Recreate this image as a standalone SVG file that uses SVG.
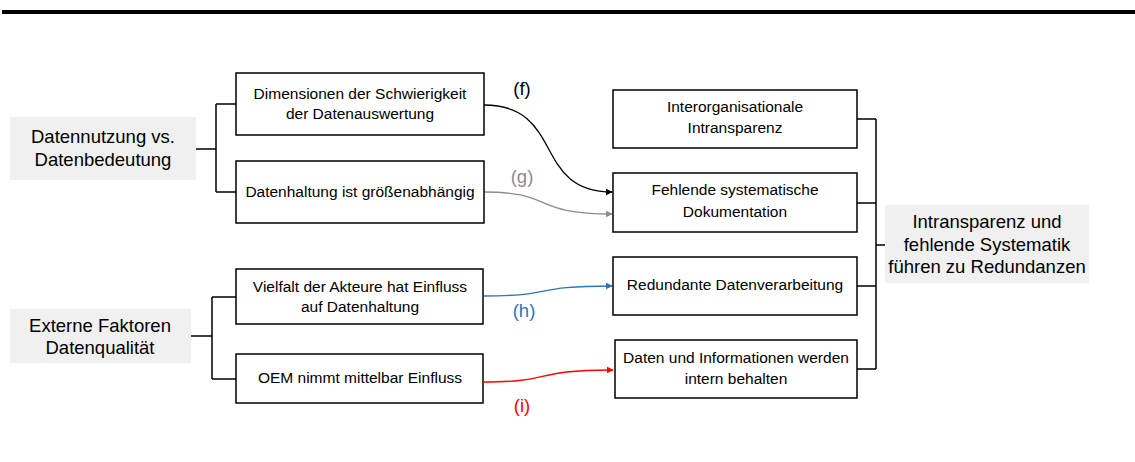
<svg xmlns="http://www.w3.org/2000/svg" width="1135" height="462" viewBox="0 0 1135 462">
  <style>
    .box { fill: #ffffff; stroke: #000000; stroke-width: 1.5; }
    .topic { fill: #f0f0f0; stroke: none; }
    .t { font-family: "Liberation Sans", Arial, sans-serif; font-size: 15.5px; fill: #000000; text-anchor: middle; }
    .big { font-family: "Liberation Sans", Arial, sans-serif; font-size: 18.5px; fill: #000000; text-anchor: middle; }
    .lbl { font-family: "Liberation Sans", Arial, sans-serif; font-size: 18.5px; text-anchor: middle; }
    .tree { fill: none; stroke: #000000; stroke-width: 1.5; }
    .arr { fill: none; stroke-width: 1.3; }
  </style>
  <defs>
    <marker id="ah-black" viewBox="0 0 10 10" refX="9" refY="5" markerWidth="7" markerHeight="7" orient="auto" markerUnits="userSpaceOnUse">
      <path d="M0,0 L10,5 L0,10 Z" fill="#000000"/>
    </marker>
    <marker id="ah-gray" viewBox="0 0 10 10" refX="9" refY="5" markerWidth="7" markerHeight="7" orient="auto" markerUnits="userSpaceOnUse">
      <path d="M0,0 L10,5 L0,10 Z" fill="#8c8c8c"/>
    </marker>
    <marker id="ah-blue" viewBox="0 0 10 10" refX="9" refY="5" markerWidth="7" markerHeight="7" orient="auto" markerUnits="userSpaceOnUse">
      <path d="M0,0 L10,5 L0,10 Z" fill="#2e75b6"/>
    </marker>
    <marker id="ah-red" viewBox="0 0 10 10" refX="9" refY="5" markerWidth="7" markerHeight="7" orient="auto" markerUnits="userSpaceOnUse">
      <path d="M0,0 L10,5 L0,10 Z" fill="#ff0000"/>
    </marker>
  </defs>

  <!-- header rule -->
  <rect x="2" y="10" width="1133" height="4" fill="#000000"/>

  <!-- connectors -->
  <g id="connectors">
    <!-- left tree: Datennutzung -->
    <path class="tree" d="M196,149 H216 M216,104 V192 M216,104 H236 M216,192 H236"/>
    <!-- left tree: Externe Faktoren -->
    <path class="tree" d="M191,336 H212 M212,297 V379 M212,297 H236 M212,379 H236"/>
    <!-- right tree -->
    <path class="tree" d="M857,119 H876 M857,203 H876 M857,286 H876 M857,369 H876 M876,119 V369 M876,245 H885"/>
    <!-- cross links -->
    <path class="arr" stroke="#000000" marker-end="url(#ah-black)" d="M484,105 C565,105 532,192 612,192"/>
    <path class="arr" stroke="#8c8c8c" marker-end="url(#ah-gray)" d="M484,192 C555,192 530,214 612,214"/>
    <path class="arr" stroke="#2e75b6" marker-end="url(#ah-blue)" d="M484,296 C555,296 530,286 612,286"/>
    <path class="arr" stroke="#ff0000" marker-end="url(#ah-red)" d="M484,382 C555,382 530,370 613,370"/>
    <text class="lbl" x="522" y="95" fill="#000000">(f)</text>
    <text class="lbl" x="522" y="183" fill="#8c8c8c">(g)</text>
    <text class="lbl" x="524" y="317" fill="#2e75b6">(h)</text>
    <text class="lbl" x="522" y="412" fill="#ff0000">(i)</text>
  </g>

  <g id="topic-datennutzung">
    <rect class="topic" x="10" y="117" width="186" height="63"/>
    <text class="big" x="103" y="143">Datennutzung vs.</text>
    <text class="big" x="103" y="166">Datenbedeutung</text>
  </g>

  <g id="topic-externe-faktoren">
    <rect class="topic" x="10" y="309" width="181" height="54"/>
    <text class="big" x="100" y="332">Externe Faktoren</text>
    <text class="big" x="100" y="354">Datenqualität</text>
  </g>

  <g id="node-dimensionen">
    <rect class="box" x="236" y="73" width="248" height="62"/>
    <text class="t" x="360" y="99">Dimensionen der Schwierigkeit</text>
    <text class="t" x="360" y="119">der Datenauswertung</text>
  </g>

  <g id="node-datenhaltung">
    <rect class="box" x="236" y="161" width="248" height="62"/>
    <text class="t" x="360" y="197">Datenhaltung ist größenabhängig</text>
  </g>

  <g id="node-vielfalt">
    <rect class="box" x="236" y="269" width="247" height="55"/>
    <text class="t" x="360" y="292">Vielfalt der Akteure hat Einfluss</text>
    <text class="t" x="360" y="312">auf Datenhaltung</text>
  </g>

  <g id="node-oem">
    <rect class="box" x="236" y="354" width="247" height="49"/>
    <text class="t" x="360" y="383">OEM nimmt mittelbar Einfluss</text>
  </g>

  <g id="node-interorganisationale">
    <rect class="box" x="613" y="90" width="244" height="58"/>
    <text class="t" x="735" y="112">Interorganisationale</text>
    <text class="t" x="735" y="133">Intransparenz</text>
  </g>

  <g id="node-fehlende-doku">
    <rect class="box" x="613" y="173" width="244" height="59"/>
    <text class="t" x="735" y="195">Fehlende systematische</text>
    <text class="t" x="735" y="217">Dokumentation</text>
  </g>

  <g id="node-redundante">
    <rect class="box" x="613" y="257" width="244" height="58"/>
    <text class="t" x="735" y="290">Redundante Datenverarbeitung</text>
  </g>

  <g id="node-daten-intern">
    <rect class="box" x="615" y="340" width="242" height="58"/>
    <text class="t" x="736" y="363">Daten und Informationen werden</text>
    <text class="t" x="736" y="384">intern behalten</text>
  </g>

  <g id="topic-intransparenz">
    <rect class="topic" x="885" y="205" width="204" height="78"/>
    <text class="big" x="987" y="228">Intransparenz und</text>
    <text class="big" x="987" y="251">fehlende Systematik</text>
    <text class="big" x="987" y="273">führen zu Redundanzen</text>
  </g>
</svg>
